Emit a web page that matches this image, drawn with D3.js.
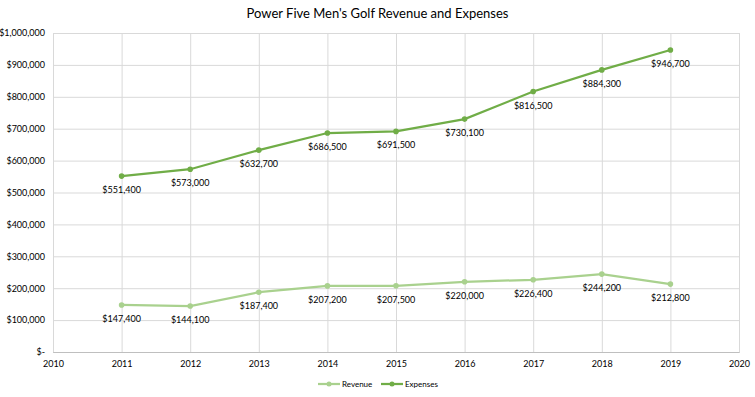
<!DOCTYPE html>
<html>
<head>
<meta charset="utf-8">
<script src="https://cdn.jsdelivr.net/npm/d3@7"></script>
<style>
  body { margin: 0; background: #fff; }
  svg text { font-family: Lato, "Open Sans", sans-serif; fill: #000; }
  .tick text { font-size: 9px; }
  .lbl { font-size: 9px; }
</style>
</head>
<body>
<div id="chart"></div>
<script>
// ── data ──────────────────────────────────────────────────────────────────────
const years    = [2011, 2012, 2013, 2014, 2015, 2016, 2017, 2018, 2019];
const revenue  = [147400, 144100, 187400, 207200, 207500, 220000, 226400, 244200, 212800];
const expenses = [551400, 573000, 632700, 686500, 691500, 730100, 816500, 884300, 946700];
const xTicks   = [2010, 2011, 2012, 2013, 2014, 2015, 2016, 2017, 2018, 2019, 2020];
const yTicks   = [0, 100000, 200000, 300000, 400000, 500000, 600000, 700000, 800000, 900000, 1000000];

const W = 755, H = 397;
const margin = { top: 33, right: 16, bottom: 45, left: 53 };
const width  = W - margin.left - margin.right;
const height = H - margin.top - margin.bottom;

const xScale = d3.scaleLinear().domain([2010, 2020]).range([0, width]);
const yScale = d3.scaleLinear().domain([0, 1000000]).range([height, 0]);

const svg = d3.select('#chart').append('svg')
  .attr('width', W).attr('height', H);

svg.append('text')
  .attr('x', W / 2).attr('y', 18)
  .attr('text-anchor', 'middle')
  .style('font-size', '13px')
  .text("Power Five Men's Golf Revenue and Expenses");

const g = svg.append('g')
  .attr('transform', `translate(${margin.left},${margin.top})`);

// ── axes + grid ───────────────────────────────────────────────────────────────
const fmt = v => v === 0 ? '$-' : '$' + d3.format(',')(v);

g.append('g')
  .call(d3.axisLeft(yScale).tickValues(yTicks).tickFormat(fmt).tickSize(-width).tickPadding(8))
  .call(a => a.select('.domain').remove())
  .call(a => a.selectAll('.tick line').attr('stroke', '#d9d9d9'));

g.append('g')
  .attr('transform', `translate(0,${height})`)
  .call(d3.axisBottom(xScale).tickValues(xTicks).tickFormat(d3.format('d')).tickSize(-height).tickPadding(9))
  .call(a => a.select('.domain').attr('stroke', '#bfbfbf'))
  .call(a => a.selectAll('.tick line').attr('stroke', '#d9d9d9'));

// ── series ────────────────────────────────────────────────────────────────────
const series = [
  { name: 'Revenue',  values: revenue,  color: '#a9d18e' },
  { name: 'Expenses', values: expenses, color: '#70ad47' }
];

const line = d3.line()
  .x((d, i) => xScale(years[i]))
  .y(d => yScale(d));

series.forEach(s => {
  g.append('path')
    .datum(s.values)
    .attr('fill', 'none')
    .attr('stroke', s.color)
    .attr('stroke-width', 2.25)
    .attr('d', line);

  g.selectAll(null).data(s.values).enter().append('circle')
    .attr('cx', (d, i) => xScale(years[i]))
    .attr('cy', d => yScale(d))
    .attr('r', 2.8)
    .attr('fill', s.color);

  g.selectAll(null).data(s.values).enter().append('text')
    .attr('class', 'lbl')
    .attr('x', (d, i) => xScale(years[i]))
    .attr('y', d => yScale(d) + 17)
    .attr('text-anchor', 'middle')
    .text(d => '$' + d3.format(',')(d));
});

// ── legend ────────────────────────────────────────────────────────────────────
const legend = svg.append('g').attr('transform', 'translate(318,384)');
series.forEach((s, i) => {
  const lg = legend.append('g').attr('transform', `translate(${i * 63},0)`);
  lg.append('line').attr('x1', 0).attr('x2', 22).attr('stroke', s.color).attr('stroke-width', 2.25);
  lg.append('circle').attr('cx', 11).attr('r', 2.5).attr('fill', s.color);
  lg.append('text').attr('x', 24).attr('y', 3).style('font-size', '8px').text(s.name);
});
</script>
</body>
</html>
